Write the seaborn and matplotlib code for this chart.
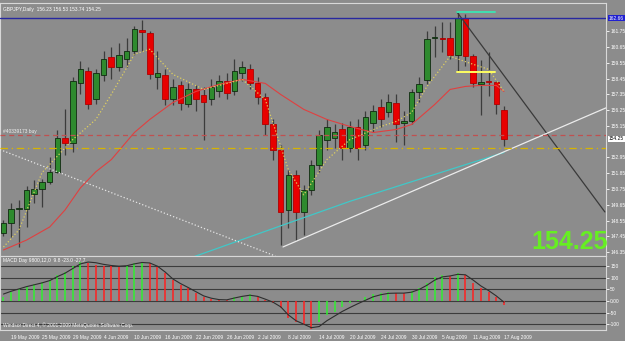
import numpy as np
import matplotlib
matplotlib.use('Agg')
import matplotlib.pyplot as plt
import seaborn as sns
from matplotlib.transforms import blended_transform_factory

# GBPJPY daily bars, 18 May 2009 .. 17 Aug 2009
opens = [147.69, 148.39, 149.37, 149.37, 150.42, 150.77, 151.26, 151.96, 154.34, 153.99,
         158.11, 158.95, 156.99, 158.67, 159.93, 159.23, 159.79, 160.35, 161.82, 161.61,
         158.53, 158.67, 156.99, 157.97, 156.71, 157.69, 157.27, 156.99, 157.55, 158.25,
         157.55, 158.81, 159.09, 158.11, 157.13, 155.25, 153.50, 149.30, 151.75, 149.16,
         150.70, 152.45, 154.20, 154.34, 154.90, 153.64, 155.04, 153.85, 155.32, 156.44,
         156.09, 156.78, 155.32, 155.46, 157.48, 158.32, 161.26, 161.26, 161.26, 160.07,
         162.66, 160.00, 158.04, 158.25, 158.18, 156.23]
highs = [148.60, 149.79, 150.00, 150.98, 151.40, 151.47, 153.01, 154.90, 156.30, 158.53,
         159.65, 159.23, 159.09, 160.35, 160.63, 160.91, 161.26, 162.10, 162.52, 161.75,
         160.35, 159.09, 158.39, 158.25, 158.11, 157.97, 157.83, 158.39, 158.67, 158.81,
         159.79, 159.65, 159.44, 158.53, 157.41, 155.60, 153.85, 152.10, 152.10, 151.05,
         152.80, 154.90, 155.60, 155.25, 155.32, 155.46, 155.60, 156.16, 156.64, 156.99,
         157.34, 157.34, 156.16, 157.69, 158.53, 161.75, 162.10, 162.38, 162.38, 163.08,
         162.94, 160.14, 159.72, 160.28, 158.25, 156.53]
lows = [147.48, 147.41, 146.71, 148.11, 149.79, 149.51, 151.12, 151.89, 153.15, 153.36,
        157.34, 156.30, 156.71, 158.25, 158.39, 158.95, 159.23, 160.07, 160.35, 158.39,
        157.69, 156.64, 156.64, 156.23, 156.44, 156.16, 154.20, 156.64, 157.13, 156.99,
        157.27, 158.25, 157.69, 156.71, 154.55, 152.80, 146.85, 148.04, 147.20, 147.55,
        150.35, 151.96, 153.50, 153.64, 152.80, 153.36, 152.80, 153.50, 154.76, 155.04,
        155.74, 154.06, 153.85, 155.25, 156.85, 158.04, 159.93, 160.28, 159.79, 158.95,
        159.30, 157.83, 155.88, 157.20, 155.95, 153.74]
closes = [148.39, 149.37, 149.44, 150.70, 150.77, 151.26, 151.96, 154.34, 153.99, 158.25,
          159.09, 156.71, 158.81, 159.79, 159.23, 160.07, 160.35, 161.89, 161.68, 158.74,
          158.81, 156.99, 157.83, 156.78, 157.69, 156.99, 156.85, 157.83, 158.25, 157.41,
          158.95, 159.23, 158.11, 157.13, 155.25, 153.50, 149.16, 151.75, 149.16, 150.70,
          152.45, 154.55, 155.04, 154.76, 153.64, 155.04, 153.64, 155.74, 156.16, 155.60,
          156.85, 155.25, 155.46, 157.48, 158.04, 161.19, 161.30, 161.22, 160.07, 162.66,
          160.00, 158.11, 158.18, 158.22, 156.71, 154.25]

# moving averages (anchor points)
red_idx = [0, 3, 6, 8, 10, 12, 14, 17, 19, 22, 25, 28, 31, 34, 36, 39, 42, 45, 48, 51,
           53, 56, 58, 60, 62, 64, 65]
red_val = [146.51, 147.20, 148.11, 149.30, 150.84, 151.96, 152.80, 154.69, 155.60, 156.78,
           157.55, 158.04, 158.39, 158.11, 157.34, 156.30, 155.60, 155.11, 154.69, 154.90,
           155.25, 156.64, 157.69, 157.90, 157.97, 157.97, 157.55]
yel_idx = [0, 2, 5, 9, 12, 14, 17, 19, 22, 26, 31, 34, 37, 39, 42, 45, 49, 51, 53, 55,
           58, 61, 63, 65]
yel_val = [146.71, 147.90, 151.89, 154.20, 155.60, 157.34, 160.14, 160.49, 158.74, 157.69,
           158.39, 156.99, 152.10, 150.35, 152.80, 154.20, 155.11, 155.46, 156.09, 157.90,
           160.00, 159.44, 159.09, 157.55]
cyan_idx = [24, 35, 45, 55, 65]
cyan_val = [145.90, 148.00, 149.90, 151.60, 153.30]

# trend lines and levels
gray_tl_x, gray_tl_y = [58.9, 78.1], [163.08, 149.16]
white_tl_x, white_tl_y = [36.3, 78.4], [146.72, 156.44]
dotted_tl_x, dotted_tl_y = [-0.45, 35.3], [153.50, 146.09]
blue_level = 162.66
order_level = 154.50
yellow_level = 153.64
short_x = [58.9, 63.8]
cyan_short = 163.08
yellow_short = 158.88

# MACD
macd_hist = [17, 39, 52, 65, 73, 82, 91, 112, 125, 150, 168, 164, 157, 153, 149, 147, 152, 162,
             168, 163, 147, 121, 90, 70, 56, 34, 17, 9, 4, 3, 17, 22, 30, 17, 4, -9, -30, -73,
             -91, -103, -121, -91, -60, -47, -26, -9, 4, 17, 30, 34, 39, 34, 33, 43, 56, 78,
             103, 112, 108, 121, 112, 78, 56, 39, 17, -17]
macd_sig = [30, 42, 52, 62, 70, 78, 88, 105, 120, 140, 160, 168, 165, 158, 153, 150, 152, 160,
            166, 164, 150, 125, 95, 75, 58, 40, 22, 12, 6, 5, 13, 20, 25, 20, 8, -5, -25, -60,
            -85, -100, -115, -110, -85, -65, -45, -28, -12, 3, 18, 27, 33, 34, 34, 38, 50, 68,
            90, 104, 108, 115, 113, 90, 65, 45, 22, -5]
macd_levels = [150, 100, 50, 0, -50, -100]

date_pos = [1, 5, 9, 13, 17, 21, 25, 29, 33, 37, 41, 45, 49, 53, 57, 61, 65]
date_labels = ['19 May 2009', '25 May 2009', '29 May 2009', '4 Jun 2009', '10 Jun 2009',
               '16 Jun 2009', '22 Jun 2009', '26 Jun 2009', '2 Jul 2009', '8 Jul 2009',
               '14 Jul 2009', '20 Jul 2009', '24 Jul 2009', '30 Jul 2009', '5 Aug 2009',
               '11 Aug 2009', '17 Aug 2009']
price_ticks = [161.75, 160.65, 159.55, 158.45, 157.35, 156.25, 155.15, 152.95, 151.85,
               150.75, 149.65, 148.55, 147.45, 146.35]

bg = '#8c8c8c'
small = 3.5
sns.set_style('dark', rc={'axes.facecolor': bg, 'figure.facecolor': bg})
plt.rcParams['font.family'] = ['Liberation Sans', 'DejaVu Sans']

fig = plt.figure(figsize=(6.25, 3.41), dpi=100)
ax = fig.add_axes([0, 1 - 256 / 341, 606 / 625, 253 / 341])
ax2 = fig.add_axes([0, 1 - 330 / 341, 606 / 625, 74 / 341])

idx = np.arange(len(opens))
o, h, l, c = map(np.array, (opens, highs, lows, closes))
up = c >= o
bot = np.minimum(o, c)
hgt = np.maximum(np.abs(c - o), 0.05)

ax.vlines(idx, l, h, color='#3c3c3c', lw=0.9, zorder=2)
ax.bar(idx[up], hgt[up], bottom=bot[up], width=0.72, color='#2e8a2e',
       edgecolor='#102a10', lw=0.6, zorder=3)
ax.bar(idx[~up], hgt[~up], bottom=bot[~up], width=0.72, color='#e80000',
       edgecolor='#b00000', lw=0.6, zorder=3)

sns.lineplot(x=red_idx, y=red_val, ax=ax, color='#e04040', lw=0.8, zorder=4)
sns.lineplot(x=yel_idx, y=yel_val, ax=ax, color='#e0d060', lw=0.9, ls=':', zorder=4)
sns.lineplot(x=cyan_idx, y=cyan_val, ax=ax, color='#40c8c8', lw=0.9, zorder=4)

ax.plot(gray_tl_x, gray_tl_y, color='#3a3a3a', lw=0.9, zorder=4)
ax.plot(white_tl_x, white_tl_y, color='#ececec', lw=0.9, zorder=4)
ax.plot(dotted_tl_x, dotted_tl_y, color='#e6e6e6', lw=0.9, ls=':', zorder=4)
ax.axhline(blue_level, color='#2828a0', lw=1.0, zorder=4)
ax.axhline(order_level, color='#c05050', lw=0.9, ls=(0, (4, 3)), zorder=4)
ax.axhline(yellow_level, color='#d8b400', lw=0.9, ls=(0, (6, 3, 1, 3)), zorder=4)
ax.plot(short_x, [cyan_short] * 2, color='#40e0b0', lw=1.4, zorder=4)
ax.plot(short_x, [yellow_short] * 2, color='#ffff60', lw=1.4, zorder=4)

ax.set_xlim(-0.45, 78.25)
ax.set_ylim(146.09, 163.71)
ax.yaxis.tick_right()
ax.set_yticks(price_ticks)
ax.set_yticklabels([f'{p:.2f}' for p in price_ticks])
ax.tick_params(axis='y', colors='white', labelsize=small, length=2, width=0.6, pad=1)
ax.set_xticks([])
ax.set_xlabel('')
ax.set_ylabel('')
for s in ax.spines.values():
    s.set_color('#d8d8d8')
    s.set_linewidth(0.8)

tr = blended_transform_factory(ax.transAxes, ax.transData)
ax.text(1.005, blue_level, '162.66', transform=tr, fontsize=small, color='white', va='center',
        ha='left', bbox=dict(boxstyle='square,pad=0.12', fc='#2020d0', ec='none'), clip_on=False)
ax.text(1.005, 154.25, '154.25', transform=tr, fontsize=small, color='black', va='center',
        ha='left', bbox=dict(boxstyle='square,pad=0.12', fc='white', ec='none'), clip_on=False)
ax.text(0.005, 0.985, 'GBPJPY,Daily  156.23 156.53 153.74 154.25', transform=ax.transAxes,
        fontsize=small, color='white', va='top')
ax.text(0.005, order_level + 0.12, '#40339173 buy', transform=tr, fontsize=small,
        color='#f0f0f0', va='bottom')

# MACD panel
for lv in macd_levels:
    ax2.axhline(lv, color='#3c3c3c', lw=0.8, zorder=1)
hist = np.array(macd_hist)
prev = np.concatenate([[hist[0] - 1], hist[:-1]])
cols = np.where(hist >= prev, '#30f030', '#ff2020')
ax2.vlines(idx, 0, hist, colors=cols, lw=1.1, zorder=2)
sns.lineplot(x=idx, y=macd_sig, ax=ax2, color='#2e2e2e', lw=0.8, zorder=3)
ax2.set_xlim(-0.45, 78.25)
ax2.set_ylim(-125, 194)
ax2.yaxis.tick_right()
ax2.set_yticks(macd_levels)
ax2.set_yticklabels(['150', '100', '50', '0.00', '-50', '-100'])
ax2.tick_params(axis='y', colors='white', labelsize=small, length=2, width=0.6, pad=1)
ax2.set_xticks(date_pos)
ax2.set_xticklabels(date_labels, ha='left')
ax2.tick_params(axis='x', colors='white', labelsize=small, length=2, width=0.6, pad=1.5)
ax2.set_xlabel('')
ax2.set_ylabel('')
for s in ax2.spines.values():
    s.set_color('#d8d8d8')
    s.set_linewidth(0.8)
ax2.text(0.005, 0.97, 'MACD Day 9800,12,0  9.8 -23.0 -27.7', transform=ax2.transAxes,
         fontsize=small, color='white', va='top')
ax2.text(0.005, 0.03, 'Windsor Direct 4, \u00a9 2001-2009 MetaQuotes Software Corp.',
         transform=ax2.transAxes, fontsize=small, color='white', va='bottom')

fig.text(531 / 625, 1 - 249 / 341, '154.25', fontsize=18, fontweight='bold',
         color='#66ee22', family=['Liberation Sans', 'DejaVu Sans'], va='baseline')

fig.savefig('out.png', dpi=100, facecolor=bg)
